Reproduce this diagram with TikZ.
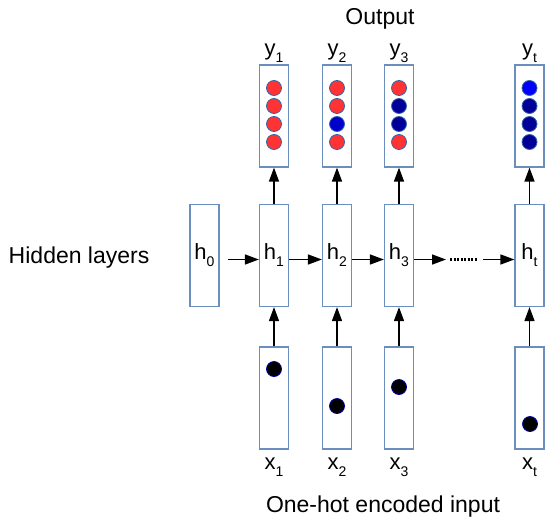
\documentclass[tikz,border=0pt]{standalone}
\usepackage{fontspec}
\setmainfont{Liberation Sans}
\usetikzlibrary{arrows.meta,positioning}
\definecolor{boxblue}{RGB}{108,142,191}
\definecolor{rimblue}{RGB}{52,101,164}
\definecolor{dotred}{RGB}{255,51,51}
\definecolor{dotblue}{RGB}{0,0,204}
\definecolor{dotnavy}{RGB}{0,0,153}
\definecolor{dotbright}{RGB}{0,0,255}
\newcommand{\sublbl}[2]{#1\raisebox{-7pt}{\fontsize{14}{14}\selectfont #2}}

\begin{document}
\begin{tikzpicture}[x=1pt,y=-1pt,>={Triangle[length=14pt,width=10pt]},line width=1.5pt,
  vec node/.style={draw=boxblue,line width=1.2pt,minimum width=29pt,minimum height=102pt,inner sep=0pt},
  unit node/.style={circle,draw=rimblue,line width=0.8pt,minimum size=15pt,inner sep=0pt},
  lbl/.style={font=\fontsize{22}{26}\selectfont,inner sep=0pt},
  big/.style={font=\fontsize{23}{28}\selectfont,inner sep=0pt},
  dot line/.style={line width=3pt,dash pattern=on 2pt off 1.5pt}]
\useasboundingbox (0,0) rectangle (545,522);

% output vectors
\node[vec node] (y1) at (274,116) {};
\node[vec node] (y2) at (337,116) {};
\node[vec node] (y3) at (399,116) {};
\node[vec node] (yt) at (529.5,116) {};
\foreach \c [count=\i] in {dotred,dotred,dotred,dotred}
  \node[unit node,fill=\c] (y1u\i) at (274,{70+18*\i}) {};
\foreach \c [count=\i] in {dotred,dotred,dotblue,dotred}
  \node[unit node,fill=\c] (y2u\i) at (337,{70+18*\i}) {};
\foreach \c [count=\i] in {dotred,dotnavy,dotnavy,dotred}
  \node[unit node,fill=\c] (y3u\i) at (399,{70+18*\i}) {};
\foreach \c [count=\i] in {dotbright,dotnavy,dotnavy,dotnavy}
  \node[unit node,fill=\c] (ytu\i) at (529.5,{70+18*\i}) {};

% hidden layers
\node[vec node] (h0) at (204.5,255.5) {\fontsize{22}{26}\selectfont\sublbl{h}{0}};
\node[vec node] (h1) at (274,255.5) {\fontsize{22}{26}\selectfont\sublbl{h}{1}};
\node[vec node] (h2) at (337,255.5) {\fontsize{22}{26}\selectfont\sublbl{h}{2}};
\node[vec node] (h3) at (399,255.5) {\fontsize{22}{26}\selectfont\sublbl{h}{3}};
\node[vec node] (ht) at (529.5,255.5) {\fontsize{22}{26}\selectfont\sublbl{h}{t}};

% one-hot inputs
\node[vec node] (x1) at (274,398) {};
\node[vec node] (x2) at (337,398) {};
\node[vec node] (x3) at (399,398) {};
\node[vec node] (xt) at (529.5,398) {};
\node[unit node,draw=dotnavy,fill=black] (x1u) at (274,369) {};
\node[unit node,draw=dotnavy,fill=black] (x2u) at (337,406) {};
\node[unit node,draw=dotnavy,fill=black] (x3u) at (399,387) {};
\node[unit node,draw=dotnavy,fill=black] (xtu) at (530,424) {};

% labels
\node[lbl,above=1pt of y1] (y1l) {\sublbl{y}{1}};
\node[lbl,above=1pt of y2] (y2l) {\sublbl{y}{2}};
\node[lbl,above=1pt of y3] (y3l) {\sublbl{y}{3}};
\node[lbl,above=1pt of yt] (ytl) {\sublbl{y}{t}};
\node[lbl,below=8pt of x1] (x1l) {\sublbl{x}{1}};
\node[lbl,below=8pt of x2] (x2l) {\sublbl{x}{2}};
\node[lbl,below=8pt of x3] (x3l) {\sublbl{x}{3}};
\node[lbl,below=8pt of xt] (xtl) {\sublbl{x}{t}};
\node[big] (out) at (380,19) {Output};
\node[big,anchor=west] (hid) at (8,258) {Hidden layers};
\node[big] (inp) at (383,507) {One-hot encoded input};

% connections
\foreach \n in {1,2,3,t}{
  \draw[->] (x\n) -- (h\n);
  \draw[->] (h\n) -- (y\n);
}
\coordinate (gapin) at (446,259.5);
\coordinate (dotsl) at (450,259.5);
\coordinate (dotsr) at (478,259.5);
\coordinate (gapout) at (483,259.5);
\draw[->,shorten <=8pt] ([yshift=-4pt]h0.east) -- ([yshift=-4pt]h1.west);
\draw[->] ([yshift=-4pt]h1.east) -- ([yshift=-4pt]h2.west);
\draw[->] ([yshift=-4pt]h2.east) -- ([yshift=-4pt]h3.west);
\draw[->] ([yshift=-4pt]h3.east) -- (gapin);
\draw[dot line] (dotsl) -- (dotsr);
\draw[->] (gapout) -- ([yshift=-4pt]ht.west);
\end{tikzpicture}
\end{document}
